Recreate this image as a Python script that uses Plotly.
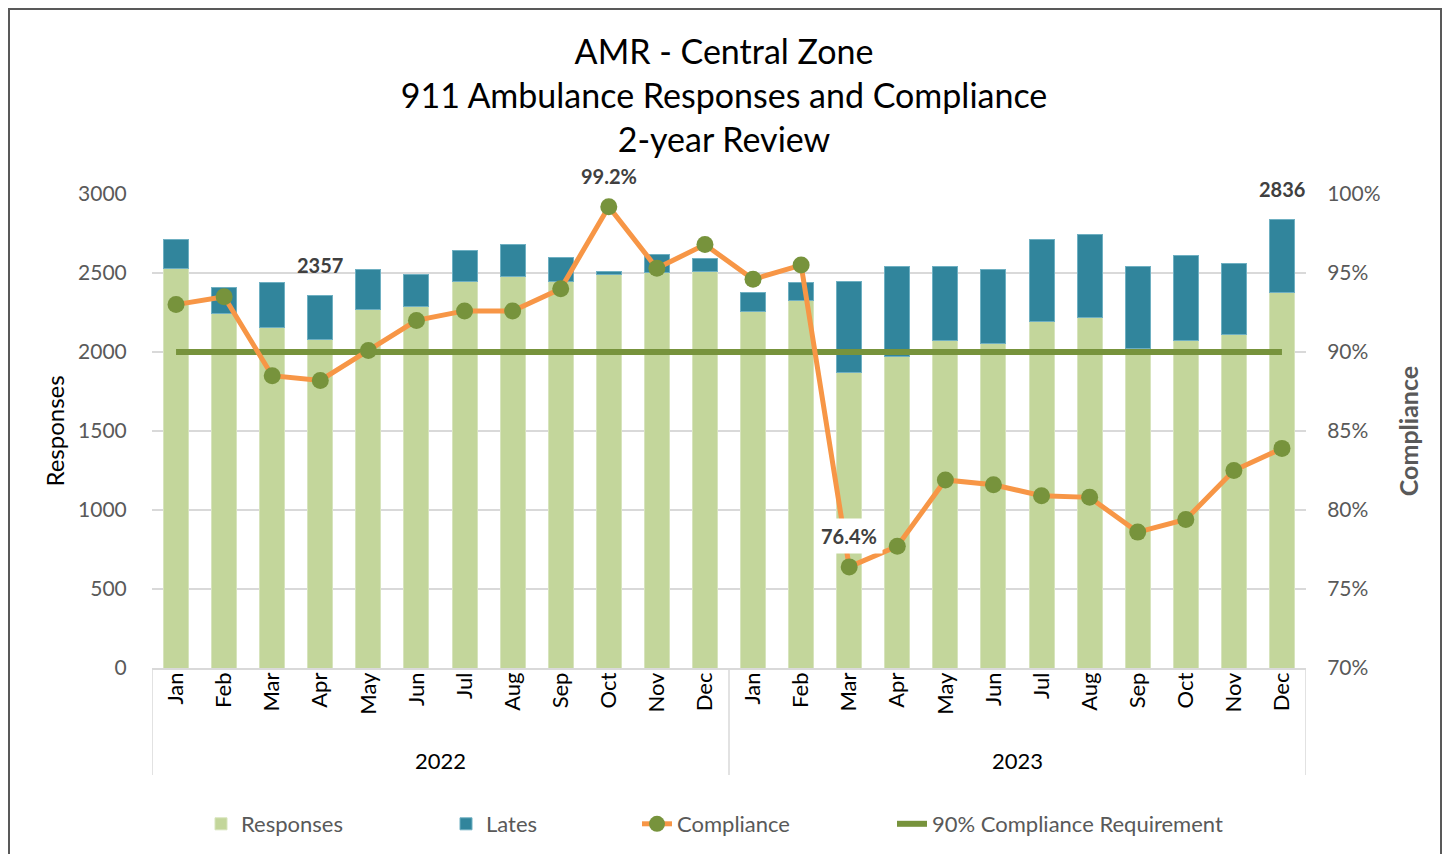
import plotly.graph_objects as go

# ---------------- data ----------------
months = ["Jan", "Feb", "Mar", "Apr", "May", "Jun", "Jul", "Aug", "Sep", "Oct", "Nov", "Dec"] * 2
years = ["2022"] * 12 + ["2023"] * 12

responses = [2529, 2245, 2155, 2082, 2267, 2287, 2449, 2480, 2449, 2491, 2502, 2508,
             2256, 2325, 1868, 1972, 2071, 2052, 2195, 2216, 2021, 2071, 2113, 2376]
lates = [184, 164, 283, 275, 254, 202, 193, 202, 152, 17, 118, 82,
         120, 113, 579, 568, 469, 469, 516, 525, 519, 538, 446, 460]
compliance = [93.0, 93.5, 88.5, 88.2, 90.1, 92.0, 92.6, 92.6, 94.0, 99.2, 95.3, 96.8,
              94.6, 95.5, 76.4, 77.7, 81.9, 81.6, 80.9, 80.8, 78.6, 79.4, 82.5, 83.9]
requirement = [90.0] * 24

total_label_idx = [3, 23]        # data labels on total responses
compliance_label_idx = [9, 14]   # data labels on compliance

# ---------------- figure ----------------
FONT = "Lato"
W, H = 1434, 846          # page body has an 8px margin on every side
PL, PB = 144, 660         # plot-area left / bottom in figure pixels
PW, PH = 1154, 474        # plot-area size
x = list(range(len(months)))
totals = [r + l for r, l in zip(responses, lates)]

fig = go.Figure()
fig.add_trace(go.Bar(x=x, y=responses, name="Responses", legend="legend",
                     marker=dict(color="#c3d69b", line=dict(color="#d7e4bd", width=1))))
fig.add_trace(go.Bar(x=x, y=lates, name="Lates", legend="legend2",
                     marker=dict(color="#31859c", line=dict(color="#6fb0c2", width=1))))
fig.add_trace(go.Scatter(x=x, y=[v / 100 for v in requirement], yaxis="y2", mode="lines",
                         name="90% Compliance Requirement", legend="legend4",
                         line=dict(color="#77933c", width=6)))
fig.add_trace(go.Scatter(x=x, y=[v / 100 for v in compliance], yaxis="y2", mode="lines+markers",
                         name="Compliance", legend="legend3",
                         line=dict(color="#f79646", width=5),
                         marker=dict(color="#77933c", size=17)))

annotations = []
for i in total_label_idx:
    annotations.append(dict(x=x[i], y=totals[i], xref="x", yref="y", text=f"<b>{totals[i]}</b>",
                            showarrow=False, yshift=31,
                            font=dict(family=FONT, size=20, color="#404040")))
for i in compliance_label_idx:
    annotations.append(dict(x=x[i], y=compliance[i] / 100, xref="x", yref="y2",
                            text=f"<b>{compliance[i]:.1f}%</b>", showarrow=False, yshift=31,
                            bgcolor="white", borderpad=5,
                            font=dict(family=FONT, size=20, color="#404040")))

# year group labels and dividers
shapes = []
groups = []
for yv in dict.fromkeys(years):
    idx = [i for i, v in enumerate(years) if v == yv]
    groups.append((yv, idx[0], idx[-1]))
for yv, a, b in groups:
    annotations.append(dict(x=(x[a] + x[b]) / 2, y=-92 / PH, xref="x", yref="paper", text=yv,
                            showarrow=False, yanchor="middle",
                            font=dict(family=FONT, size=22, color="#000000")))
bounds = [x[groups[0][1]] - 0.5] + [x[b] + 0.5 for _, _, b in groups]
for bx in bounds:
    shapes.append(dict(type="line", xref="x", yref="paper", x0=bx, x1=bx, y0=0, y1=-0.226,
                       line=dict(color="#d9d9d9", width=1.5)))

# chart-area border (left, top, right; bottom runs off the page)
bx0, bx1 = (1 - PL) / PW, (W - 1 - PL) / PW
by0, by1 = (PB - 1) / PH, -(H + 20 - PB) / PH
shapes.append(dict(type="path", xref="paper", yref="paper",
                   path=f"M {bx0} {by1} L {bx0} {by0} L {bx1} {by0} L {bx1} {by1}",
                   line=dict(color="#595959", width=2), fillcolor="rgba(0,0,0,0)"))

legend_font = dict(family=FONT, size=22, color="#595959")
def leg(px):
    return dict(orientation="h", xref="container", yref="container", x=(px - 48) / W,
                y=1 - 816 / H, xanchor="left", yanchor="middle", font=legend_font,
                bgcolor="rgba(0,0,0,0)", visible=True)

fig.update_layout(
    width=W, height=H, autosize=False,
    margin=dict(l=PL, r=W - PL - PW, t=PB - PH, b=H - PB),
    paper_bgcolor="white", plot_bgcolor="white",
    barmode="stack", bargap=0.48, showlegend=True,
    font=dict(family=FONT, color="#595959"),
    title=dict(text="AMR - Central Zone<br>911 Ambulance Responses and Compliance<br>2-year Review",
               x=(724 - 8) / W, xanchor="center", xref="container",
               y=1 - 56 / H, yanchor="middle", yref="container",
               font=dict(family=FONT, size=34, color="#000000")),
    xaxis=dict(range=[-0.5, 23.5], tickvals=x, ticktext=months, tickangle=-90,
               showgrid=False, zeroline=False, showline=True, linecolor="#d9d9d9", linewidth=1.5,
               ticks="", ticklabelstandoff=-6,
               tickfont=dict(family=FONT, size=22, color="#000000")),
    yaxis=dict(range=[0, 3000], dtick=500, showgrid=True, gridcolor="#d9d9d9", gridwidth=1.5,
               zeroline=False, showline=False, ticks="outside", ticklen=20,
               tickcolor="rgba(0,0,0,0)",
               tickfont=dict(family=FONT, size=21, color="#595959"),
               title=dict(text="Responses", standoff=6,
                          font=dict(family=FONT, size=24, color="#000000"))),
    yaxis2=dict(range=[0.7, 1.0], dtick=0.05, tickformat=".0%", overlaying="y", side="right",
                showgrid=False, zeroline=False, showline=False, ticks="outside", ticklen=16,
                tickcolor="rgba(0,0,0,0)",
                tickfont=dict(family=FONT, size=21, color="#595959"),
                title=dict(text="<b>Compliance</b>", standoff=20,
                           font=dict(family=FONT, size=25, color="#595959"))),
    legend=leg(241), legend2=leg(486), legend3=leg(677), legend4=leg(932),
    annotations=annotations, shapes=shapes,
)

fig.write_html("out.html")
